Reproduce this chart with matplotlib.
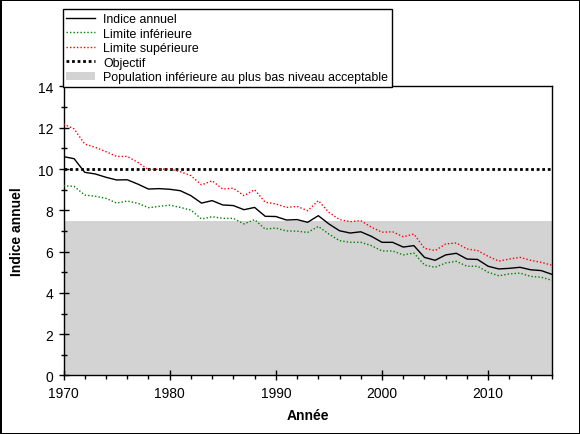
import matplotlib.pyplot as plt
from matplotlib.ticker import MultipleLocator
import numpy as np

plt.rcParams['font.family'] = ['Liberation Sans', 'DejaVu Sans']

annees = np.arange(1970, 2017)
indice = [10.6, 10.5, 9.84, 9.76, 9.6, 9.47, 9.48, 9.27, 9.03, 9.05,
          9.02, 8.95, 8.71, 8.35, 8.47, 8.26, 8.23, 8.03, 8.14, 7.71,
          7.7, 7.53, 7.55, 7.42, 7.74, 7.34, 7.01, 6.9, 6.96, 6.74,
          6.45, 6.45, 6.22, 6.29, 5.72, 5.58, 5.84, 5.92, 5.64, 5.62,
          5.29, 5.16, 5.19, 5.24, 5.12, 5.08, 4.9]
limite_sup = [12.18, 11.94, 11.21, 11.05, 10.84, 10.61, 10.61, 10.32, 9.97, 9.99,
              10.0, 9.87, 9.68, 9.23, 9.43, 9.03, 9.07, 8.71, 9.0, 8.39,
              8.31, 8.14, 8.19, 7.98, 8.47, 7.9, 7.55, 7.45, 7.5, 7.18,
              6.94, 6.96, 6.72, 6.85, 6.16, 6.05, 6.37, 6.42, 6.13, 6.05,
              5.77, 5.54, 5.64, 5.72, 5.58, 5.48, 5.34]
limite_inf = [9.19, 9.16, 8.74, 8.68, 8.58, 8.35, 8.45, 8.34, 8.13, 8.19,
              8.25, 8.14, 8.01, 7.58, 7.69, 7.61, 7.61, 7.34, 7.55, 7.09,
              7.14, 7.0, 6.99, 6.93, 7.22, 6.85, 6.53, 6.45, 6.45, 6.29,
              6.03, 6.03, 5.84, 5.93, 5.35, 5.24, 5.45, 5.53, 5.29, 5.29,
              5.0, 4.83, 4.92, 4.96, 4.8, 4.76, 4.61]
objectif = 10
seuil_bas = 7.5

fig = plt.figure(figsize=(5.8, 4.35), dpi=100, linewidth=2, edgecolor='black')
ax = fig.add_axes([0.1095, 0.1345, 0.842, 0.6645])

ax.axhspan(0, seuil_bas, color='#d3d3d3', lw=0, zorder=1,
           label='Population inférieure au plus bas niveau acceptable')
ax.plot(annees, indice, color='black', lw=1, zorder=3, label='Indice annuel')
ax.plot(annees, limite_inf, color='#008000', lw=1, ls=(0, (1, 1.5)), zorder=3,
        label='Limite inférieure')
ax.plot(annees, limite_sup, color='#ff0000', lw=1, ls=(0, (1, 1.5)), zorder=3,
        label='Limite supérieure')
ax.axhline(objectif, color='black', lw=2, ls=(0, (1, 1)), zorder=2, label='Objectif')

ax.set_xlim(1970, 2016)
ax.set_ylim(0, 14)
ax.xaxis.set_major_locator(MultipleLocator(10))
ax.xaxis.set_minor_locator(MultipleLocator(2))
ax.yaxis.set_major_locator(MultipleLocator(2))
ax.yaxis.set_minor_locator(MultipleLocator(1))
ax.tick_params(which='major', direction='inout', length=7, width=1, labelsize=10, pad=4)
ax.tick_params(axis='y', which='minor', direction='inout', length=4.5, width=1)
ax.tick_params(axis='x', which='minor', direction='out', length=3, width=1)
for s in ax.spines.values():
    s.set_linewidth(1)

ax.set_xlabel('Année', fontsize=10, fontweight='bold', labelpad=6)
ax.set_ylabel('Indice annuel', fontsize=10, fontweight='bold', labelpad=10)

h, l = ax.get_legend_handles_labels()
ordre = [1, 2, 3, 4, 0]
leg = fig.legend([h[i] for i in ordre], [l[i] for i in ordre], loc='upper left',
                 bbox_to_anchor=(0.108, 0.976), fontsize=8.9, frameon=True,
                 fancybox=False, edgecolor='black', framealpha=1, borderpad=0.3,
                 labelspacing=0.2, handlelength=2.3, handletextpad=0.7,
                 handleheight=0.6, borderaxespad=0)
leg.get_frame().set_linewidth(1)

fig.savefig('out.png', dpi=100)
